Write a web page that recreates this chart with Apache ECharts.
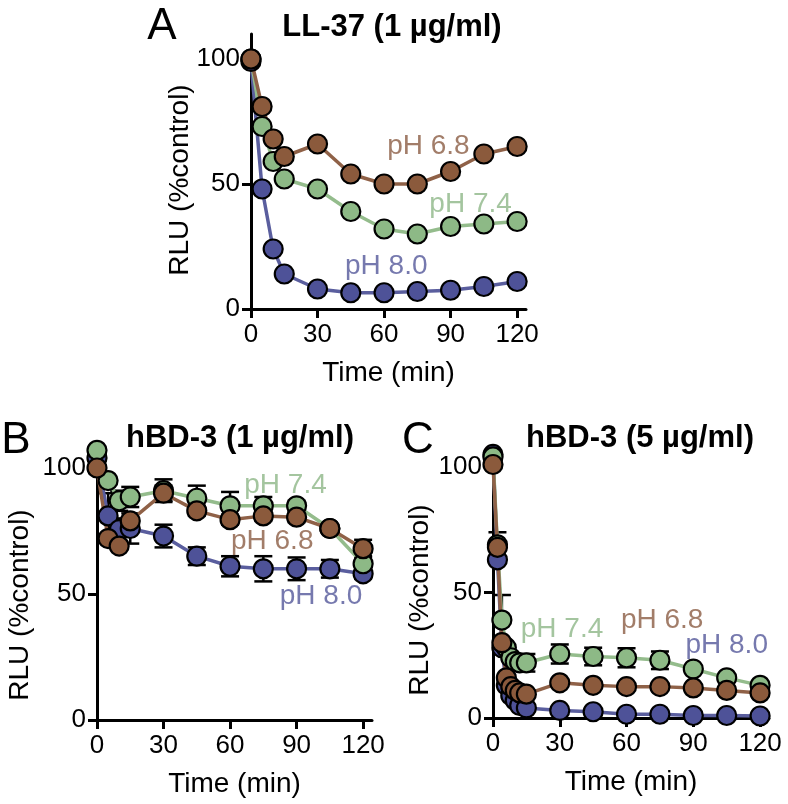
<!DOCTYPE html>
<html lang="en">
<head>
    <meta charset="UTF-8">
    <title>RLU vs time</title>
    <script src="https://cdn.jsdelivr.net/npm/echarts@6/dist/echarts.min.js"></script>
    <style>
        html, body { margin: 0; padding: 0; background: #fff; }
        #main { width: 788px; height: 804px; }
    </style>
</head>
<body>
    <div id="main"></div>
    <script>
        // ---- data ----
        // A: LL-37 (1 µg/ml)
        const timeA = [0, 5, 10, 15, 30, 45, 60, 75, 90, 105, 120];
        const llPH68 = [100, 81, 68, 61, 66, 54, 50, 50, 55, 62, 65];
        const llPH74 = [100, 73, 59, 52, 48, 39, 32, 30, 33, 34, 35];
        const llPH80 = [99, 48, 24, 14, 8, 6.5, 6.5, 7, 7.5, 9, 11];

        // B: hBD-3 (1 µg/ml)
        const timeB = [0, 5, 10, 15, 30, 45, 60, 75, 90, 105, 120];
        const b1PH74 = [107, 95, 87, 88.5, 91, 88, 85, 85, 85, 76, 62];
        const b1PH68 = [100, 72, 69, 79, 90, 83, 79.5, 81, 80.5, 76, 68];
        const b1PH80 = [104, 81, 75.5, 76, 73, 65, 61, 60, 60, 60, 58];
        const b1Err74 = [0, 0, 4, 4, 4.5, 5, 5.5, 3.5, 2, 0, 3];
        const b1Err68 = [2, 0, 0, 0, 3, 2, 2, 2, 2, 1, 3.5];
        const b1Err80 = [0, 9, 4.5, 6, 4.5, 3.5, 4, 5, 4.5, 3.5, 2];

        // C: hBD-3 (5 µg/ml)
        const timeC = [0, 2, 4, 6, 8, 10, 12, 15, 30, 45, 60, 75, 90, 105, 120];
        const c5PH74 = [104, 69, 39, 28, 24, 22.5, 22, 22, 25.5, 24.5, 24, 23, 19.5, 16, 13];
        const c5PH68 = [101, 68, 30, 16, 12.5, 11, 10, 9.5, 14, 13, 12.5, 12.5, 12, 11, 10];
        const c5PH80 = [105, 63, 28, 13, 9, 7, 5, 4, 3, 2.5, 1.5, 1.5, 1, 1, 0.8];
        const c5Err74 = [0, 0, 10, 0, 0, 0, 0, 3.5, 3.8, 3.5, 3.8, 3.5, 0, 0, 0];
        const c5Err68 = [0, 6, 0, 0, 0, 0, 0, 0, 0, 0, 0, 0, 0, 0, 0];
        const c5Err80 = [0, 0, 0, 0, 0, 0, 0, 0, 0, 0, 0, 0, 0, 0, 0];

        // x tick values, y tick values
        const xTicks = [0, 30, 60, 90, 120];
        const yTicks = [0, 50, 100];

        // label anchors [text, time, value]
        const labelsA = [['pH 6.8', 80, 65], ['pH 7.4', 99, 42], ['pH 8.0', 61, 17]];
        const labelsB = [['pH 7.4', 85, 93], ['pH 6.8', 79, 71], ['pH 8.0', 101, 49]];
        const labelsC = [['pH 7.4', 31, 35.5], ['pH 6.8', 76, 39], ['pH 8.0', 105, 29]];

        const FONT = 'Liberation Sans, Arial, Helvetica, sans-serif';
        const col = {
            '6.8': { fill: '#8b5a3c', line: '#8f6147', text: '#8b5d43' },
            '7.4': { fill: '#8db986', line: '#94bc8c', text: '#8db787' },
            '8.0': { fill: '#4e5298', line: '#5a5e9e', text: '#54579a' }
        };

        function zip(t, v) {
            return t.map(function (x, i) { return [x, v[i]]; });
        }

        function lineSeries(idx, t, v, ph) {
            return {
                type: 'line',
                xAxisIndex: idx, yAxisIndex: idx,
                data: zip(t, v),
                clip: false,
                symbol: 'circle',
                symbolSize: 19,
                z: 3,
                lineStyle: { color: col[ph].line, width: 3.5 },
                itemStyle: { color: col[ph].fill, borderColor: '#000', borderWidth: 2.2 }
            };
        }

        function errSeries(idx, t, v, e) {
            const d = [];
            t.forEach(function (x, i) {
                if (e[i] > 0) d.push([x, v[i] - e[i], v[i] + e[i]]);
            });
            return {
                type: 'custom',
                xAxisIndex: idx, yAxisIndex: idx,
                clip: false,
                z: 1,
                encode: { x: 0, y: [1, 2] },
                data: d,
                renderItem: function (params, api) {
                    const lo = api.coord([api.value(0), api.value(1)]);
                    const hi = api.coord([api.value(0), api.value(2)]);
                    const w = 9;
                    const st = { stroke: '#000', lineWidth: 2.5 };
                    return {
                        type: 'group',
                        children: [
                            { type: 'line', shape: { x1: lo[0], y1: lo[1], x2: hi[0], y2: hi[1] }, style: st },
                            { type: 'line', shape: { x1: lo[0] - w, y1: lo[1], x2: lo[0] + w, y2: lo[1] }, style: st },
                            { type: 'line', shape: { x1: hi[0] - w, y1: hi[1], x2: hi[0] + w, y2: hi[1] }, style: st }
                        ]
                    };
                }
            };
        }

        function labelSeries(idx, labels) {
            return {
                type: 'scatter',
                xAxisIndex: idx, yAxisIndex: idx,
                symbolSize: 1,
                clip: false,
                z: 5,
                silent: true,
                itemStyle: { color: 'rgba(0,0,0,0)' },
                data: labels.map(function (l) {
                    return {
                        name: l[0], value: [l[1], l[2]],
                        label: {
                            show: true, position: 'inside', formatter: '{b}',
                            fontFamily: FONT, fontSize: 28,
                            color: col[l[0].slice(3)].text
                        }
                    };
                })
            };
        }

        function xAxis(idx) {
            return {
                type: 'value', gridIndex: idx,
                min: 0, max: 124,
                name: 'Time (min)', nameLocation: 'middle', nameGap: 50,
                nameTextStyle: { fontFamily: FONT, fontSize: 28, color: '#000' },
                axisLine: { lineStyle: { color: '#000', width: 3 } },
                axisTick: { customValues: xTicks, length: 9, lineStyle: { color: '#000', width: 3 } },
                axisLabel: { customValues: xTicks, margin: 13, fontFamily: FONT, fontSize: 26, color: '#000' },
                splitLine: { show: false }
            };
        }

        function yAxis(idx, max) {
            return {
                type: 'value', gridIndex: idx,
                min: 0, max: max,
                axisLine: { show: true, lineStyle: { color: '#000', width: 3 } },
                axisTick: { show: true, customValues: yTicks, length: 9, lineStyle: { color: '#000', width: 3 } },
                axisLabel: { customValues: yTicks, margin: 11, fontFamily: FONT, fontSize: 26, color: '#000' },
                splitLine: { show: false }
            };
        }

        function yName(x, y) {
            return {
                type: 'text', x: x, y: y, rotation: Math.PI / 2,
                style: {
                    text: 'RLU (%control)', fontFamily: FONT, fontSize: 28, fill: '#000',
                    align: 'center', verticalAlign: 'middle'
                }
            };
        }

        function txt(s, x, y, size, bold) {
            return {
                type: 'text', x: x, y: y,
                style: {
                    text: s, fontFamily: FONT, fontSize: size, fontWeight: bold ? 'bold' : 'normal',
                    fill: '#000', align: 'center', verticalAlign: 'middle'
                }
            };
        }

        const chart = echarts.init(document.getElementById('main'), null, { renderer: 'canvas' });
        const option = {
            animation: false,
            backgroundColor: '#fff',
            grid: [
                { left: 251, top: 34, width: 275, height: 275 },
                { left: 97, top: 468, width: 275, height: 252 },
                { left: 493, top: 467, width: 276, height: 251 }
            ],
            xAxis: [xAxis(0), xAxis(1), xAxis(2)],
            yAxis: [yAxis(0, 110), yAxis(1, 100), yAxis(2, 100)],
            graphic: [
                txt('A', 162, 27, 44, false),
                txt('LL-37 (1 µg/ml)', 392, 27, 31, true),
                txt('B', 16, 441, 44, false),
                txt('hBD-3 (1 µg/ml)', 240, 438, 31, true),
                txt('C', 418, 441, 44, false),
                txt('hBD-3 (5 µg/ml)', 640, 438, 31, true),
                yName(180, 180),
                yName(20, 605),
                yName(420, 600)
            ],
            series: [
                lineSeries(0, timeA, llPH80, '8.0'),
                lineSeries(0, timeA, llPH74, '7.4'),
                lineSeries(0, timeA, llPH68, '6.8'),
                labelSeries(0, labelsA),

                errSeries(1, timeB, b1PH80, b1Err80),
                errSeries(1, timeB, b1PH74, b1Err74),
                errSeries(1, timeB, b1PH68, b1Err68),
                lineSeries(1, timeB, b1PH80, '8.0'),
                lineSeries(1, timeB, b1PH74, '7.4'),
                lineSeries(1, timeB, b1PH68, '6.8'),
                labelSeries(1, labelsB),

                errSeries(2, timeC, c5PH80, c5Err80),
                errSeries(2, timeC, c5PH74, c5Err74),
                errSeries(2, timeC, c5PH68, c5Err68),
                lineSeries(2, timeC, c5PH80, '8.0'),
                lineSeries(2, timeC, c5PH74, '7.4'),
                lineSeries(2, timeC, c5PH68, '6.8'),
                labelSeries(2, labelsC)
            ]
        };
        chart.setOption(option);
    </script>
</body>
</html>
